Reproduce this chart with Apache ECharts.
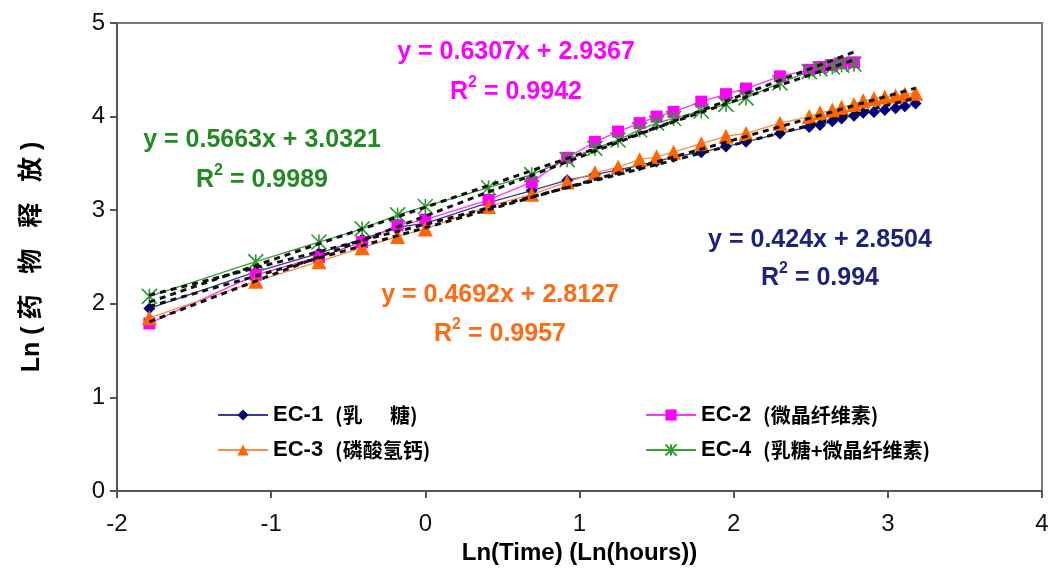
<!DOCTYPE html>
<html>
<head>
<meta charset="utf-8">
<script src="https://cdn.jsdelivr.net/npm/echarts@6/dist/echarts.min.js"></script>
<style>html,body{margin:0;padding:0;background:#fff}#c{width:1054px;height:575px}</style>
</head>
<body>
<div id="c"></div>
<script>
// ---- data ----
const xEC13 = [-1.79,-1.10,-0.69,-0.41,-0.18,0,0.41,0.69,0.92,1.10,1.25,1.39,1.50,1.61,1.79,1.95,2.08,2.30,2.49,2.56,2.64,2.70,2.78,2.84,2.91,2.98,3.05,3.11,3.18];
const xEC24 = [-1.79,-1.10,-0.69,-0.41,-0.18,0,0.41,0.69,0.92,1.10,1.25,1.39,1.50,1.61,1.79,1.95,2.08,2.30,2.49,2.56,2.64,2.70,2.78];
const yEC1 = [1.95,2.34,2.54,2.69,2.82,2.86,3.08,3.21,3.32,3.38,3.43,3.48,3.52,3.57,3.62,3.68,3.73,3.82,3.89,3.91,3.95,3.98,4.01,4.04,4.05,4.07,4.09,4.11,4.14];
const yEC3 = [1.85,2.24,2.45,2.60,2.72,2.80,3.04,3.17,3.30,3.40,3.46,3.54,3.57,3.62,3.71,3.79,3.82,3.93,4.00,4.04,4.07,4.10,4.13,4.17,4.19,4.21,4.22,4.24,4.25];
const yEC2 = [1.79,2.31,2.50,2.66,2.84,2.90,3.11,3.30,3.56,3.73,3.84,3.93,4.00,4.05,4.16,4.24,4.30,4.43,4.50,4.53,4.55,4.57,4.58];
const yEC4 = [2.08,2.45,2.66,2.80,2.95,3.04,3.24,3.38,3.54,3.66,3.75,3.86,3.93,3.98,4.06,4.13,4.20,4.36,4.48,4.51,4.53,4.55,4.56];
const seriesNames = ['EC-1','EC-2','EC-3','EC-4'];
const seriesNotes = ['(乳      糖)','(微晶纤维素)','(磷酸氢钙)','(乳糖+微晶纤维素)'];
const slopes = [0.424, 0.6307, 0.4692, 0.5663];
const intercepts = [2.8504, 2.9367, 2.8127, 3.0321];
const r2Values = ['0.994','0.9942','0.9957','0.9989'];
const xTicks = [-2,-1,0,1,2,3,4];
const yTicks = [0,1,2,3,4,5];
const xTitle = 'Ln(Time) (Ln(hours))';
const yTitle = 'Ln ( 药   物   释   放 )';

// ---- build ----
const FONT = '"Liberation Sans", Arial, "Noto Sans CJK SC", sans-serif';
const colors = ['#00007f', '#ff00ff', '#ff6600', '#2e9a2e'];
const textColors = ['#1c2280', '#ff00ff', '#ff6a13', '#238a23'];
const lineColors = ['#3a3a9a', '#ff33ff', '#ff8a50', '#3aa03a'];
const symbols = ['diamond', 'rect', 'triangle', 'path://M5 0L5 10M0 0L10 10M10 0L0 10'];
const symSizes = [12, 12, 15, 15];
const xs = [xEC13, xEC24, xEC13, xEC24];
const ys = [yEC1, yEC2, yEC3, yEC4];
const pairs = (a, b) => a.map((v, i) => [v, b[i]]);

const series = [];
for (let k = 0; k < 4; k++) {
  series.push({
    name: seriesNames[k], type: 'line', data: pairs(xs[k], ys[k]),
    symbol: symbols[k], symbolSize: symSizes[k], showAllSymbol: true,
    lineStyle: { color: lineColors[k], width: 1.3 },
    itemStyle: { color: colors[k], borderColor: colors[k], borderWidth: k === 3 ? 1.6 : 0 },
    z: 2, animation: false
  });
}
for (let k = 0; k < 4; k++) {
  const x0 = Math.min(...xs[k]), x1 = Math.max(...xs[k]);
  series.push({
    name: 'trend' + k, type: 'line',
    data: [[x0, slopes[k] * x0 + intercepts[k]], [x1, slopes[k] * x1 + intercepts[k]]],
    symbol: 'none', lineStyle: { color: '#111', width: 3, type: [6, 5] },
    z: 5, silent: true, animation: false
  });
}

const legendRich = {
  a: { fontFamily: FONT, fontWeight: 'bold', fontSize: 22, color: '#000', lineHeight: 24 },
  b: { fontFamily: '"Noto Sans CJK SC", sans-serif', fontWeight: 'bold', fontSize: 20, color: '#000', lineHeight: 24, padding: [0, 0, 0, 12] }
};
const legendFmt = n => '{a|' + n + '}{b|' + seriesNotes[seriesNames.indexOf(n)] + '}';
const legendBase = {
  orient: 'vertical', itemWidth: 50, itemHeight: 14, itemGap: 13,
  formatter: legendFmt, textStyle: { rich: legendRich }, top: 399, selectedMode: false
};

function eqText(k, cx, cy, cyR) {
  const fam = FONT;
  return [
    { type: 'text', x: cx, y: cy, z: 10,
      style: { text: 'y = ' + slopes[k] + 'x + ' + intercepts[k], fill: textColors[k],
        font: 'bold 25px ' + fam, align: 'center', verticalAlign: 'middle' } },
    { type: 'text', x: cx, y: cyR, z: 10,
      style: { text: '{r|R}{s|2}{r| = ' + r2Values[k] + '}', align: 'center', verticalAlign: 'middle',
        rich: {
          r: { fontFamily: fam, fontWeight: 'bold', fontSize: 25, fill: textColors[k], lineHeight: 30, verticalAlign: 'bottom' },
          s: { fontFamily: fam, fontWeight: 'bold', fontSize: 16, fill: textColors[k], lineHeight: 30, verticalAlign: 'top' }
        } } }
  ];
}

const chart = echarts.init(document.getElementById('c'));
chart.setOption({
  backgroundColor: '#fff',
  animation: false,
  grid: { left: 117, right: 12, top: 23, bottom: 84, show: true, borderColor: '#7a7a7a', borderWidth: 2 },
  xAxis: {
    type: 'value', min: xTicks[0], max: xTicks[xTicks.length - 1], interval: 1,
    axisLine: { show: true, onZero: false, lineStyle: { color: '#555', width: 2 } },
    axisTick: { show: true, length: 7, lineStyle: { color: '#555', width: 2 } },
    splitLine: { show: false },
    axisLabel: { fontFamily: FONT, fontSize: 24, color: '#111', margin: 21 },
    name: xTitle, nameLocation: 'middle', nameGap: 47,
    nameTextStyle: { fontFamily: FONT, fontWeight: 'bold', fontSize: 24, color: '#000' }
  },
  yAxis: {
    type: 'value', min: yTicks[0], max: yTicks[yTicks.length - 1], interval: 1,
    axisLine: { show: true, onZero: false, lineStyle: { color: '#555', width: 2 } },
    axisTick: { show: true, length: 7, lineStyle: { color: '#555', width: 2 } },
    splitLine: { show: false },
    axisLabel: { fontFamily: FONT, fontSize: 24, color: '#111', margin: 12 },
    name: yTitle, nameLocation: 'middle', nameGap: 72, nameRotate: 90,
    nameTextStyle: { fontFamily: FONT, fontWeight: 'bold', fontSize: 25, color: '#000' }
  },
  legend: [
    Object.assign({ data: ['EC-1', 'EC-3'], left: 212 }, legendBase),
    Object.assign({ data: ['EC-2', 'EC-4'], left: 640 }, legendBase)
  ],
  graphic: [].concat(
    eqText(1, 516, 52, 90),
    eqText(3, 262, 140, 178),
    eqText(2, 500, 295, 332),
    eqText(0, 820, 240, 276)
  ),
  series: series
});
</script>
</body>
</html>
